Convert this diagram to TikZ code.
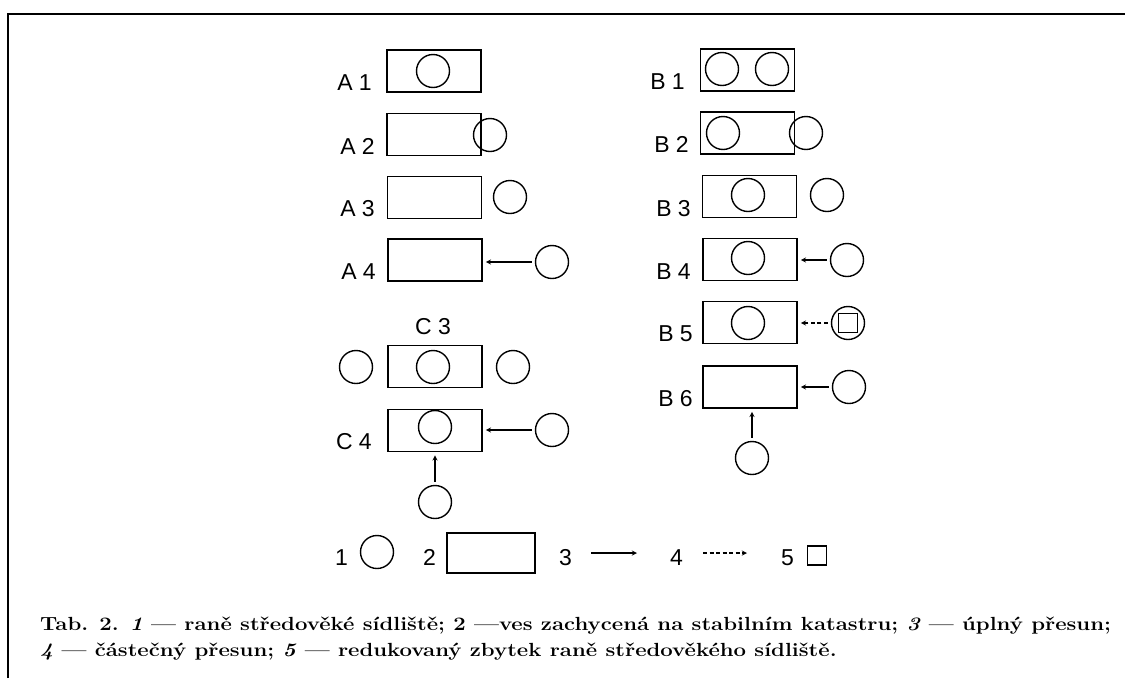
\documentclass[tikz,border=0pt]{standalone}
\usepackage{fontspec}
\newfontfamily\labfont{Liberation Sans}
\begin{document}
\begin{tikzpicture}[x=1pt, y=-1pt, >=stealth,
    village/.style={draw, line width=1.7pt, minimum width=94pt, minimum height=42pt, inner sep=0pt},
    site/.style={draw, circle, line width=1.4pt, minimum size=33pt, inner sep=0pt},
    rest/.style={draw, line width=1.3pt, minimum size=19pt, inner sep=0pt},
    lab/.style={font=\labfont\fontsize{23}{23}\selectfont, anchor=base east, inner sep=0pt},
    capline/.style={font=\bfseries\fontsize{19}{19}\selectfont, anchor=base west, inner sep=0pt},
    shiftfull/.style={->, line width=1.3pt, shorten <=3pt, shorten >=3pt},
    shiftpart/.style={shiftfull, dash pattern=on 4pt off 2.5pt}]
  \useasboundingbox (0,0) rectangle (1125,678);
  \draw[line width=2pt] (8,678) -- (8,14) -- (1125,14);

  \node[village] (a1) at (434,71) {};
  \node[site] (a1s) at (433,71) {};
  \node[lab] (a1l) at (372,90) {A 1};
  \node[village] (a2) at (434,134.5) {};
  \node[site] (a2s) at (490,135) {};
  \node[lab] (a2l) at (375,154) {A 2};
  \node[village] (a3) at (434.5,197.5) {};
  \node[site] (a3s) at (510,197) {};
  \node[lab] (a3l) at (375,216) {A 3};
  \node[village] (a4) at (435,260) {};
  \node[site] (a4s) at (552,262) {};
  \node[lab] (a4l) at (376,279) {A 4};
  \draw[shiftfull] (a4s) -- (a4s -| a4.east);

  \node[lab, anchor=base] (c3l) at (433,334) {C 3};
  \node[village] (c3) at (435,366.5) {};
  \node[site] (c3s) at (433,367) {};
  \node[site] (c3w) at (356,367) {};
  \node[site] (c3e) at (513,367) {};
  \node[village] (c4) at (435,430.5) {};
  \node[site] (c4s) at (435,427) {};
  \node[site] (c4e) at (552,430) {};
  \node[site] (c4b) at (435,502) {};
  \node[lab] (c4l) at (372,449) {C 4};
  \draw[shiftfull] (c4e) -- (c4e -| c4.east);
  \draw[shiftfull] (c4b) -- (c4.south);

  \node[village] (b1) at (747.5,70) {};
  \node[site] (b1s) at (722,69) {};
  \node[site] (b1t) at (772,69) {};
  \node[lab] (b1l) at (685,89) {B 1};
  \node[village] (b2) at (747.5,133) {};
  \node[site] (b2s) at (723,133) {};
  \node[site] (b2t) at (806,133) {};
  \node[lab] (b2l) at (689,152) {B 2};
  \node[village] (b3) at (749.5,196.5) {};
  \node[site] (b3s) at (748,195) {};
  \node[site] (b3t) at (827,195) {};
  \node[lab] (b3l) at (691,216) {B 3};
  \node[village] (b4) at (750,259.5) {};
  \node[site] (b4s) at (748,258) {};
  \node[site] (b4t) at (847,260) {};
  \node[lab] (b4l) at (691,279) {B 4};
  \draw[shiftfull] (b4t) -- (b4t -| b4.east);
  \node[village] (b5) at (750,322.5) {};
  \node[site] (b5s) at (748,323) {};
  \node[site] (b5t) at (848,323) {};
  \node[rest] (b5r) at (848,323) {};
  \node[lab] (b5l) at (693,341) {B 5};
  \draw[shiftpart] (b5t) -- (b5t -| b5.east);
  \node[village] (b6) at (750,387) {};
  \node[site] (b6t) at (849,387) {};
  \node[site] (b6b) at (752,458) {};
  \node[lab] (b6l) at (693,406) {B 6};
  \draw[shiftfull] (b6t) -- (b6t -| b6.east);
  \draw[shiftfull] (b6b) -- (b6b |- b6.south);

  \node[lab] (k1) at (348,565) {1};
  \node[site] (k1s) at (377,552) {};
  \node[lab] (k2) at (436,565) {2};
  \node[village, minimum width=88pt, minimum height=40pt] (k2v) at (491,553) {};
  \node[lab] (k3) at (572,565) {3};
  \coordinate (k3a) at (588,553);
  \coordinate (k3b) at (640,553);
  \draw[shiftfull] (k3a) -- (k3b);
  \node[lab] (k4) at (683,565) {4};
  \coordinate (k4a) at (700,553);
  \coordinate (k4b) at (750,553);
  \draw[shiftpart] (k4a) -- (k4b);
  \node[lab] (k5) at (794,565) {5};
  \node[rest] (k5r) at (817,555.5) {};

  \node[capline] (cap1) at (40,630) {\scalebox{1.165}[1]{Tab. 2. \textit{1} — raně středověké sídliště; 2 —ves zachycená na stabilním katastru; \textit{3} — úplný přesun;}};
  \node[capline] (cap2) at (40,656) {\scalebox{1.165}[1]{\textit{4} — částečný přesun; \textit{5} — redukovaný zbytek raně středověkého sídliště.}};
\end{tikzpicture}
\end{document}
